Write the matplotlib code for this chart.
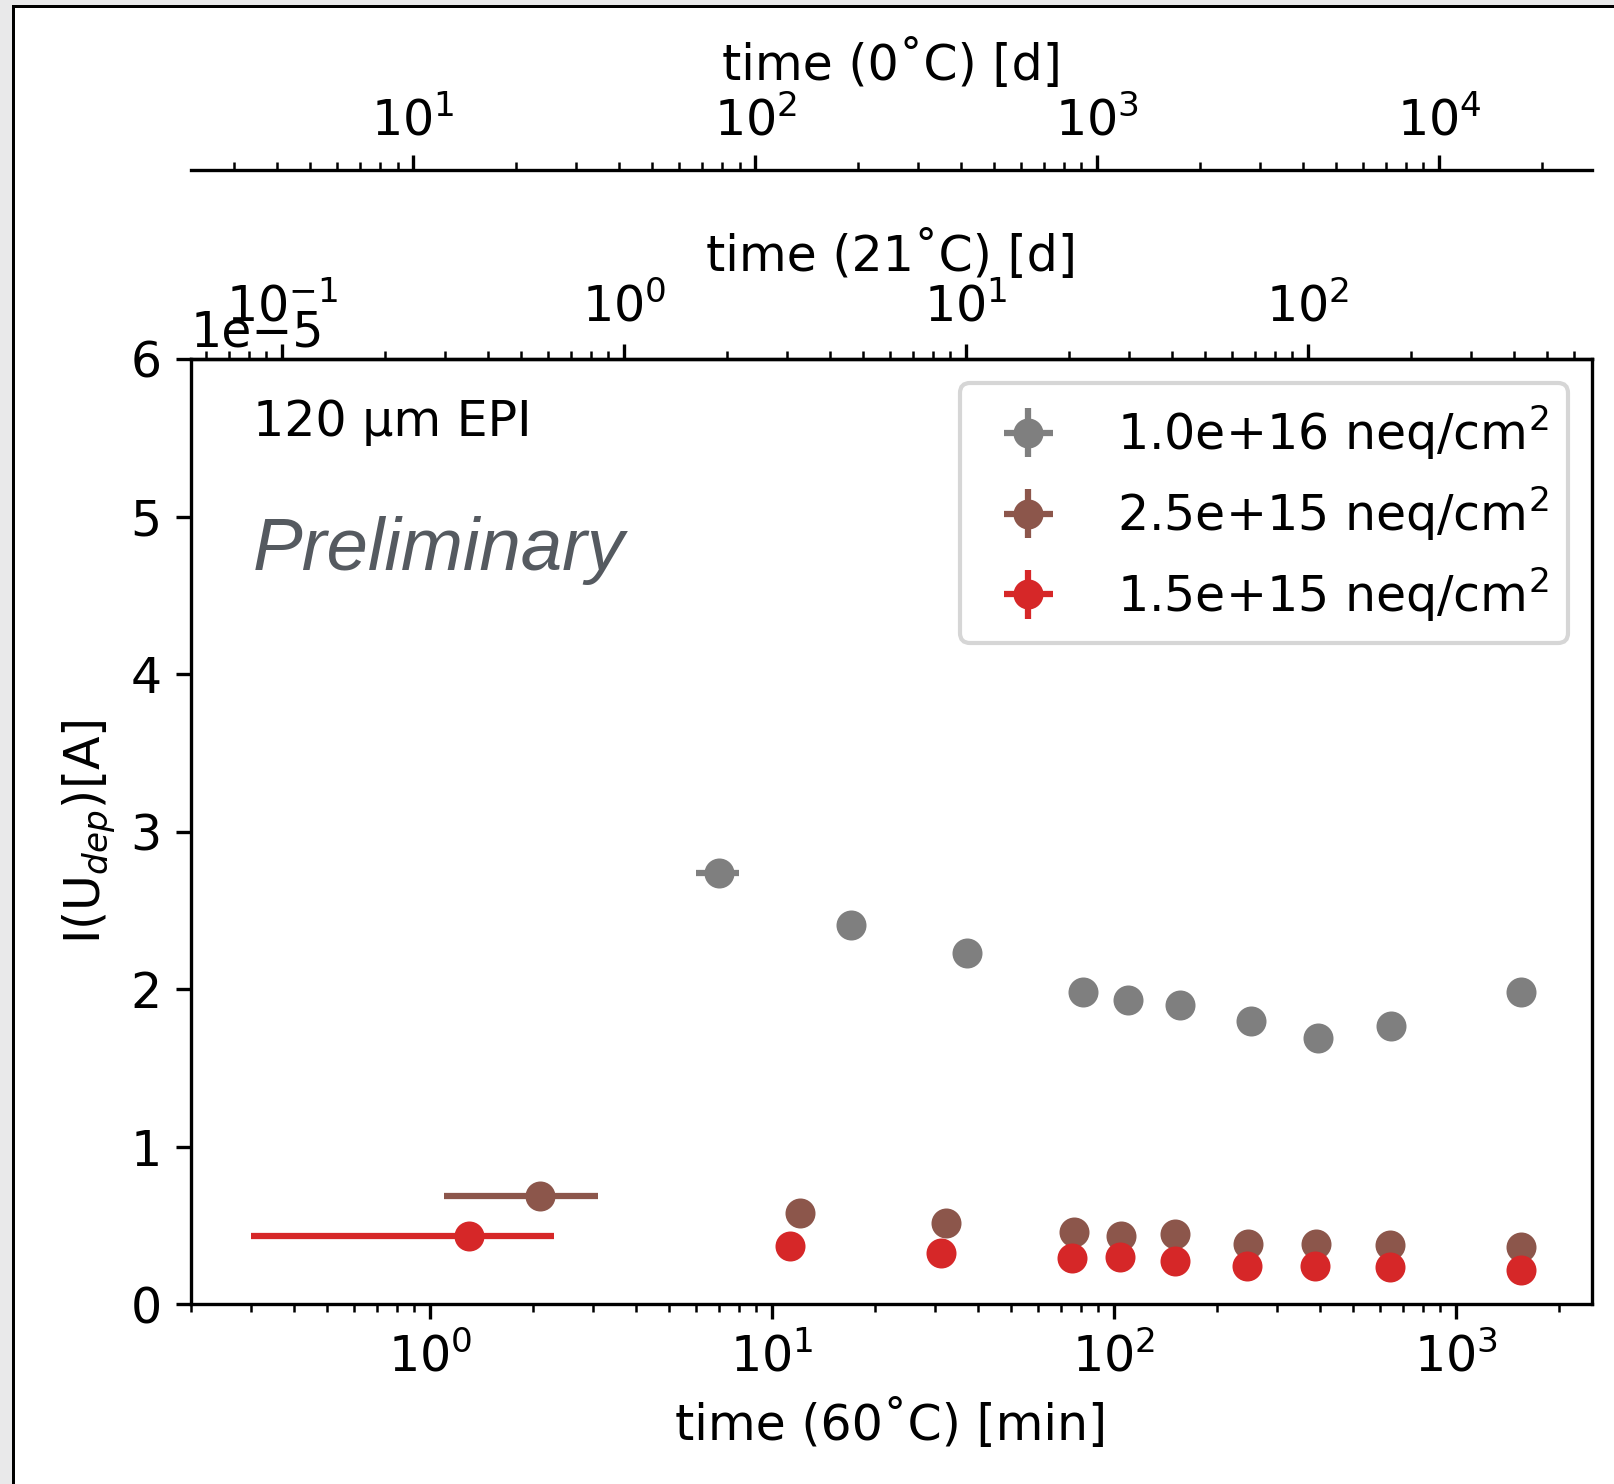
import numpy as np
import matplotlib
matplotlib.use("Agg")
import matplotlib.pyplot as plt
from matplotlib.patches import Rectangle

# =========================
# Data (time at 60 C in min, current in 1e-5 A)
# =========================
labels = ["1.0e+16 neq/cm$^2$", "2.5e+15 neq/cm$^2$", "1.5e+15 neq/cm$^2$"]
colors = ["tab:gray", "tab:brown", "tab:red"]

t_1e16 = [7.0, 17.0, 37.2, 81.4, 110, 156, 251, 394, 647, 1549]
I_1e16 = [2.735, 2.408, 2.23, 1.98, 1.93, 1.897, 1.797, 1.687, 1.765, 1.979]

t_25e15 = [2.1, 12.1, 32.2, 76.2, 105, 151, 246, 389, 643, 1545]
I_25e15 = [0.686, 0.576, 0.512, 0.459, 0.432, 0.444, 0.383, 0.381, 0.373, 0.364]

t_15e15 = [1.3, 11.3, 31.3, 75.5, 104.5, 151, 245, 388, 641, 1545]
I_15e15 = [0.432, 0.368, 0.322, 0.294, 0.296, 0.275, 0.239, 0.241, 0.235, 0.216]

t_err = [1, 1, 1, 1, 1, 1, 1, 1, 1, 1]
I_err = [0.03, 0.03, 0.03, 0.03, 0.03, 0.03, 0.03, 0.03, 0.03, 0.03]

# conversion factors from 60C minutes to days at other temperatures
f21 = 0.271
f0 = 11.2

plt.rcParams["font.size"] = 11.75

fig = plt.figure(figsize=(1614 / 300, 1484 / 300), dpi=300)
fig.patch.set_facecolor("#e9e9ea")

# screenshot frame
W, H = 1614, 1484
fig.add_artist(Rectangle((13.5 / W, -0.1), 1.2, 1.1 - 5.5 / H,
                         transform=fig.transFigure, facecolor="white",
                         edgecolor="black", linewidth=0.72, zorder=-1))

ax = fig.add_axes([191 / W, 1 - 1304 / H, (1592 - 191) / W, (1304 - 359) / H])

series = [(t_1e16, I_1e16), (t_25e15, I_25e15), (t_15e15, I_15e15)]
for (t, I), c, lab in zip(series, colors, labels):
    ax.errorbar(t, np.array(I) * 1e-5, xerr=t_err, yerr=np.array(I_err) * 1e-5,
                fmt="o", color=c, markersize=6.2, elinewidth=1.5, label=lab)

ax.set_xscale("log")
ax.set_xlim(0.2, 2500)
ax.set_ylim(0, 6e-5)
ax.set_xlabel("time (60˚C) [min]")
ax.set_ylabel("I(U$_{dep}$)[A]")
ax.yaxis.set_label_coords(-0.052, 0.5)

ax.text(0.044, 0.933, "120 µm EPI", transform=ax.transAxes, va="center")
ax.text(0.044, 0.797, "Preliminary", transform=ax.transAxes, va="center",
        fontsize=17.9, style="italic", color="#555a60",
        family=["Liberation Sans", "DejaVu Sans"])

ax.legend(loc="upper right", labelspacing=0.45)

sec21 = ax.secondary_xaxis("top", functions=(lambda x: x * f21, lambda x: x / f21))
sec21.set_xlabel("time (21˚C) [d]", labelpad=3.0)
sec21.tick_params(pad=3.0)

sec0 = ax.secondary_xaxis(1.2, functions=(lambda x: x * f0, lambda x: x / f0))
sec0.set_xlabel("time (0˚C) [d]")
sec0.tick_params(pad=2.3)

fig.savefig("out.png", dpi=300)
